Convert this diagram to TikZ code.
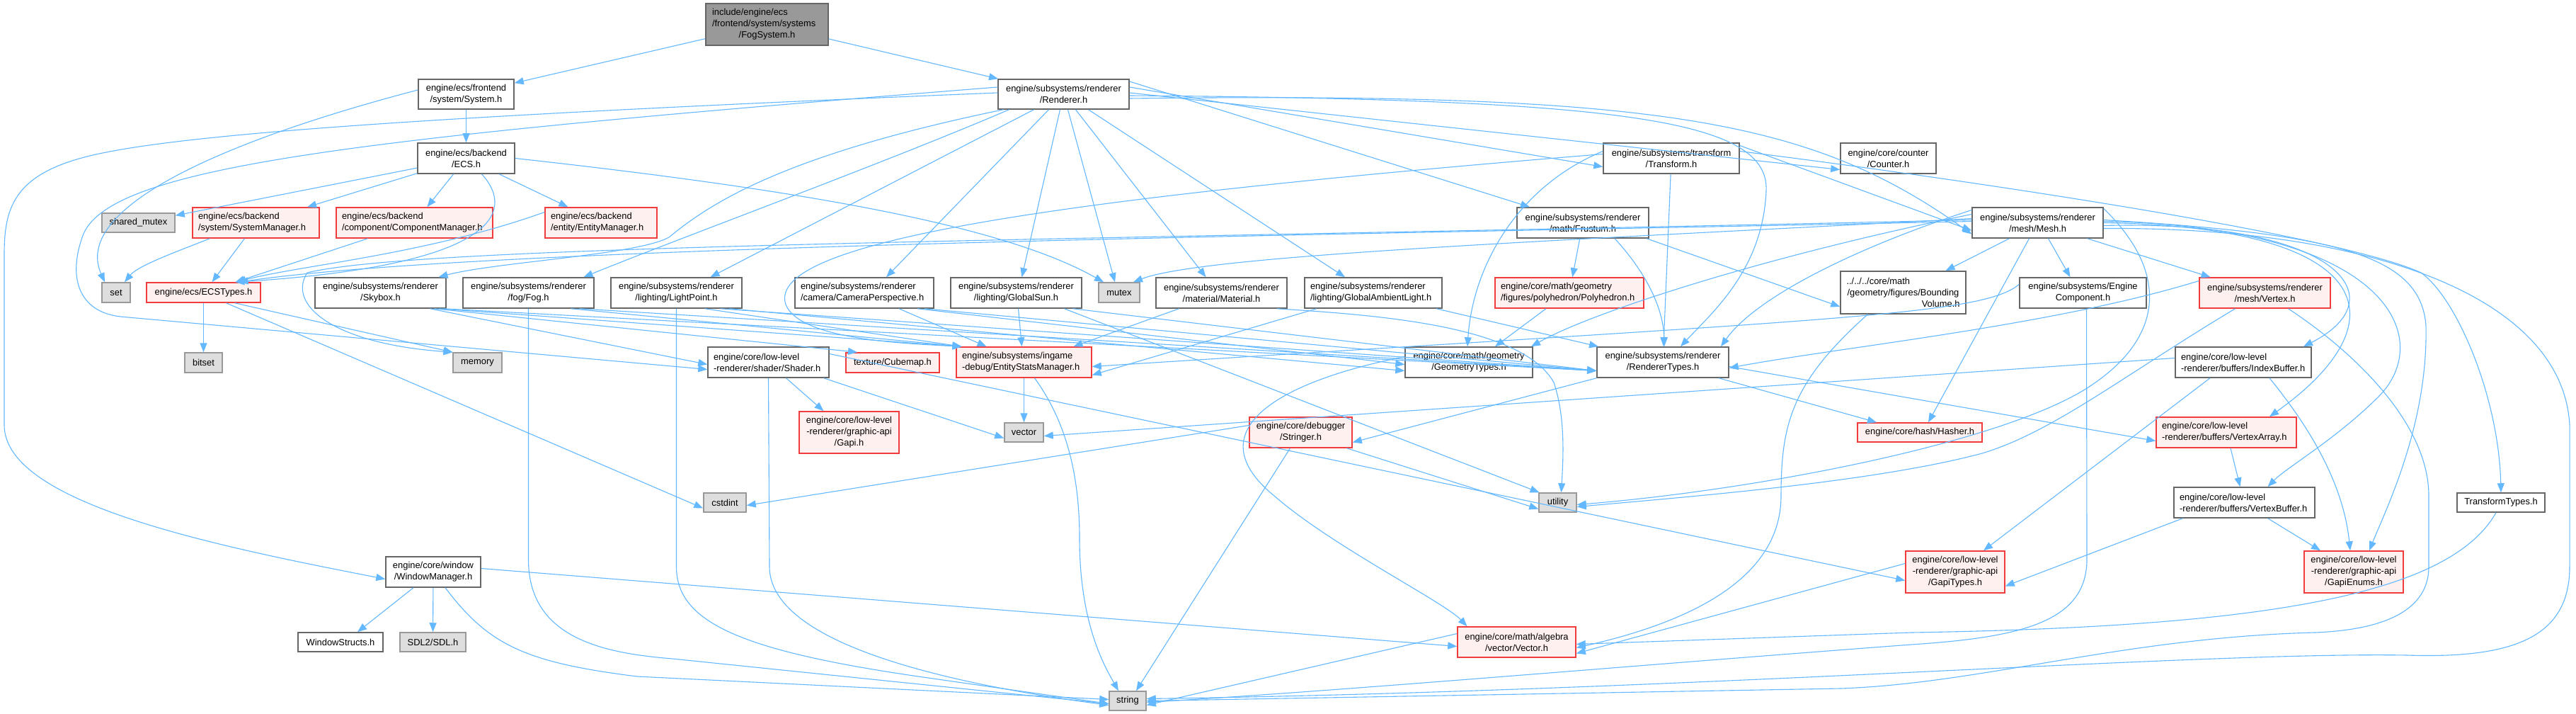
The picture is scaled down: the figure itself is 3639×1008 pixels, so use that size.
\documentclass[tikz,border=0pt]{standalone}
\usepackage{fontspec}
\setmainfont{Liberation Sans}
\usetikzlibrary{arrows.meta}
\definecolor{edgec}{HTML}{63B8FF}
\definecolor{bordc}{HTML}{666666}
\definecolor{grayf}{HTML}{DEDEDE}
\definecolor{grayb}{HTML}{999999}
\definecolor{redb}{HTML}{F03C3C}
\definecolor{redf}{HTML}{FFF0F0}
\definecolor{rootf}{HTML}{999999}
\begin{document}
\begin{tikzpicture}[x={(1pt,0)},y={(0,-1pt)},
  base/.style={draw, line width=1.5pt, inner sep=0pt, font=\fontsize{12.9}{16}\selectfont, align=center, anchor=center},
  wn/.style={base, draw=bordc, fill=white},
  gn/.style={base, draw=grayb, fill=grayf},
  rn/.style={base, draw=redb, fill=redf},
  rootn/.style={base, draw=bordc, fill=rootf},
  sz/.style 2 args={minimum width=#1, minimum height=#2},
  lt/.style={align=left, text width=#1},
  e/.style={draw=edgec, line width=1.1pt, -{Triangle[length=13pt,width=10pt]}},
]
\useasboundingbox (0,0) rectangle (3639,1008);
\fill[white] (0,0) rectangle (3639,1008);

% ---------- nodes ----------
\node[rootn, sz={173}{59}] (root) at (1083.5,34.5) {\makebox[155pt][l]{include/engine/ecs}\\\makebox[155pt][l]{/frontend/system/systems}\\/FogSystem.h};
\node[wn, sz={135}{42}] (sys) at (658.5,133) {engine/ecs/frontend\\/system/System.h};
\node[wn, sz={185}{42}] (ren) at (1502.5,133) {engine/subsystems/renderer\\/Renderer.h};
\node[wn, sz={137}{43}] (ecs) at (658.5,223.5) {engine/ecs/backend\\/ECS.h};
\node[wn, sz={192}{43}] (tr) at (2361,223.5) {engine/subsystems/transform\\/Transform.h};
\node[wn, sz={135}{43}] (cnt) at (2667.5,223.5) {engine/core/counter\\/Counter.h};
\node[gn, sz={103}{27}] (smx) at (195.5,314.5) {shared\_mutex};
\node[rn, sz={179}{43}, lt=163] (sm) at (361.5,314.5) {engine/ecs/backend\\/system/SystemManager.h};
\node[rn, sz={221}{43}, lt=205] (cm) at (585.5,314.5) {engine/ecs/backend\\/component/ComponentManager.h};
\node[rn, sz={158}{43}, lt=142] (em) at (849,314.5) {engine/ecs/backend\\/entity/EntityManager.h};
\node[wn, sz={186}{43}] (fru) at (2236,314.5) {engine/subsystems/renderer\\/math/Frustum.h};
\node[wn, sz={185}{43}] (mesh) at (2878.5,314.5) {engine/subsystems/renderer\\/mesh/Mesh.h};
\node[gn, sz={40}{28}] (set) at (164,413) {set};
\node[rn, sz={161}{28}] (ects) at (287.5,413) {engine/ecs/ECSTypes.h};
\node[wn, sz={185}{43}] (sky) at (537.5,413.5) {engine/subsystems/renderer\\/Skybox.h};
\node[wn, sz={185}{43}] (fog) at (746.5,413.5) {engine/subsystems/renderer\\/fog/Fog.h};
\node[wn, sz={185}{43}] (lp) at (955.5,413.5) {engine/subsystems/renderer\\/lighting/LightPoint.h};
\node[wn, sz={196}{43}, lt=180] (cam) at (1221,413.5) {engine/subsystems/renderer\\/camera/CameraPerspective.h};
\node[wn, sz={185}{43}] (sun) at (1435.5,413.5) {engine/subsystems/renderer\\/lighting/GlobalSun.h};
\node[gn, sz={58}{28}] (mtx) at (1581,413) {mutex};
\node[wn, sz={185}{43}] (mat) at (1725.5,413.5) {engine/subsystems/renderer\\/material/Material.h};
\node[wn, sz={194}{43}, lt=178] (gal) at (1940,413.5) {engine/subsystems/renderer\\/lighting/GlobalAmbientLight.h};
\node[rn, sz={210}{43}, lt=194] (poly) at (2217,413.5) {engine/core/math/geometry\\/figures/polyhedron/Polyhedron.h};
\node[wn, sz={177}{60}] (bv) at (2688.5,413) {\makebox[160pt][l]{../../../core/math}\\/geometry/figures/Bounding\\\makebox[160pt][r]{Volume.h}};
\node[wn, sz={179}{43}] (ec) at (2942.5,413.5) {engine/subsystems/Engine\\Component.h};
\node[rn, sz={185}{43}] (vtx) at (3199.5,413.5) {engine/subsystems/renderer\\/mesh/Vertex.h};
\node[gn, sz={53}{28}] (bits) at (287.5,512) {bitset};
\node[gn, sz={69}{28}] (mem) at (674.5,512) {memory};
\node[wn, sz={171}{43}, lt=155] (sh) at (1085.5,511.5) {engine/core/low-level\\-renderer/shader/Shader.h};
\node[rn, sz={132}{28}] (cube) at (1261,512) {texture/Cubemap.h};
\node[rn, sz={191}{43}, lt=175] (esm) at (1446.5,511.5) {engine/subsystems/ingame\\-debug/EntityStatsManager.h};
\node[wn, sz={180}{43}] (gt) at (2075,511.5) {engine/core/math/geometry\\/GeometryTypes.h};
\node[wn, sz={186}{43}] (rt) at (2349,511.5) {engine/subsystems/renderer\\/RendererTypes.h};
\node[wn, sz={192}{43}, lt=176] (ib) at (3169,511.5) {engine/core/low-level\\-renderer/buffers/IndexBuffer.h};
\node[rn, sz={141}{59}] (gapi) at (1199.5,610.5) {engine/core/low-level\\-renderer/graphic-api\\/Gapi.h};
\node[gn, sz={55}{27}] (vec) at (1446.5,610.5) {vector};
\node[rn, sz={145}{43}] (str) at (1837.5,610.5) {engine/core/debugger\\/Stringer.h};
\node[rn, sz={176}{27}] (hash) at (2712,610.5) {engine/core/hash/Hasher.h};
\node[rn, sz={198}{43}, lt=182] (va) at (3145,610.5) {engine/core/low-level\\-renderer/buffers/VertexArray.h};
\node[gn, sz={60}{27}] (cst) at (1024,709.5) {cstdint};
\node[gn, sz={53}{27}] (util) at (2200.5,709.5) {utility};
\node[wn, sz={199}{43}, lt=183] (vb) at (3170.5,709.5) {engine/core/low-level\\-renderer/buffers/VertexBuffer.h};
\node[wn, sz={124}{27}] (tt) at (3533,709.5) {TransformTypes.h};
\node[wn, sz={134}{43}] (wm) at (612,807.5) {engine/core/window\\/WindowManager.h};
\node[rn, sz={140}{59}] (gtyp) at (2762,807.5) {engine/core/low-level\\-renderer/graphic-api\\/GapiTypes.h};
\node[rn, sz={140}{59}] (genum) at (3325,807.5) {engine/core/low-level\\-renderer/graphic-api\\/GapiEnums.h};
\node[wn, sz={120}{27}] (ws) at (481,906.5) {WindowStructs.h};
\node[gn, sz={93}{27}] (sdl) at (611.5,906.5) {SDL2/SDL.h};
\node[rn, sz={167}{43}] (vecm) at (2142.5,906.5) {engine/core/math/algebra\\/vector/Vector.h};
\node[gn, sz={52}{27}] (strg) at (1593,989.5) {string};

% ---------- edges ----------
% root
\draw[e] (root) -- (sys);
\draw[e] (root) -- (ren);
% System.h
\draw[e] (sys) -- (ecs);
\draw[e] ([yshift=6]sys.west) .. controls (330,195) and (100,290) .. ([xshift=-16]set.north);
% ECS.h
\draw[e] (ecs) -- (smx);
\draw[e] (ecs) -- (sm);
\draw[e] (ecs) -- (cm);
\draw[e] (ecs) -- (em);
\draw[e] ([xshift=22]ecs.south) .. controls (730,300) and (700,375) .. ([xshift=45]ects.north);
\draw[e] (ecs.east) .. controls (1150,270) and (1420,320) .. ([xshift=-22]mtx.north);
% managers
\draw[e] ([xshift=-65]sm.south) .. controls (250,355) and (195,375) .. ([xshift=12]set.north);
\draw[e] ([xshift=-16]sm.south) -- ([xshift=12]ects.north);
\draw[e] ([xshift=-66]cm.south) -- ([xshift=45]ects.north);
\draw[e] ([yshift=15]em.west) .. controls (600,360) and (420,375) .. ([xshift=47]ects.north);
% ECSTypes
\draw[e] (ects) -- (bits);
\draw[e] ([xshift=44]ects.south) -- ([xshift=-35]mem.north);
\draw[e] ([xshift=32]ects.south) -- ([yshift=-8]cst.west);
% Renderer.h
\draw[e] ([xshift=-85]ren.south) .. controls (1100,220) and (1000,290) .. (945,335) .. controls (900,360) and (700,370) .. ([xshift=82]sky.north);
\draw[e] ([xshift=-77]ren.south) .. controls (1250,230) and (950,340) .. ([xshift=78]fog.north);
\draw[e] ([xshift=-42]ren.south) -- ([xshift=48]lp.north);
\draw[e] ([xshift=-21]ren.south) -- ([xshift=31]cam.north);
\draw[e] ([xshift=-5]ren.south) -- ([xshift=8]sun.north);
\draw[e] ([xshift=6]ren.south) -- ([xshift=-6]mtx.north);
\draw[e] ([xshift=17]ren.south) -- ([xshift=-22]mat.north);
\draw[e] ([xshift=35]ren.south) -- ([xshift=-40]gal.north);
\draw[e] ([yshift=18]ren.east) -- ([xshift=-75]fru.north);
\draw[e] ([yshift=10]ren.east) -- ([yshift=-12]tr.west);
\draw[e] ([yshift=2]ren.east) -- ([yshift=-16]cnt.west);
\draw[e] ([yshift=-6]ren.east) .. controls (2350,130) and (2560,170) .. ([yshift=-16]mesh.west);
\draw[e] ([yshift=-2]ren.east) .. controls (2300,140) and (2500,170) .. (2495,270) .. controls (2490,380) and (2420,440) .. ([xshift=25]rt.north);
\draw[e] ([yshift=2]ren.west) .. controls (700,160) and (300,185) .. (150,215) .. controls (20,240) and (6,290) .. (6,360) -- (6,600) .. controls (6,710) and (300,770) .. ([yshift=-10]wm.west);
\draw[e] ([yshift=10]ren.west) .. controls (500,195) and (160,235) .. (118,330) .. controls (95,390) and (110,440) .. (170,447) -- ([yshift=-10]sh.west);
% Transform.h
\draw[e] ([yshift=10]tr.east) .. controls (2750,250) and (3300,330) .. (3420,385) .. controls (3470,420) and (3530,560) .. (tt.north);
\draw[e] ([yshift=18]tr.east) -- ([yshift=-11]mesh.west);
\draw[e] ([yshift=10]tr.west) .. controls (2140,265) and (2080,380) .. ([xshift=-2]gt.north);
\draw[e] (tr) -- (rt);
\draw[e] ([yshift=6]tr.west) .. controls (1500,280) and (1080,340) .. (1110,430) .. controls (1130,480) and (1280,485) .. ([xshift=-88]esm.north);
% Frustum.h
\draw[e] (fru) -- (poly);
\draw[e] ([xshift=45]fru.south) .. controls (2330,390) and (2350,440) .. ([xshift=2]rt.north);
\draw[e] ([xshift=90]fru.south) -- ([yshift=-20]bv.west);
\draw[e] ([xshift=-33]poly.south) -- ([xshift=37]gt.north);
% GlobalAmbientLight.h
\draw[e] ([xshift=-80]gal.south) -- ([yshift=-18]esm.east);
\draw[e] ([xshift=89]gal.south) -- ([xshift=-91]rt.north);
% BoundingVolume
\draw[e] ([xshift=-50]bv.south) .. controls (2530,540) and (2516,600) .. (2516,700) .. controls (2516,820) and (2380,880) .. ([yshift=-8]vecm.east);
% Skybox.h
\draw[e] ([xshift=70]sky.south) -- ([yshift=-3]sh.west);
\draw[e] ([xshift=76]sky.south) -- ([xshift=-50]cube.north);
\draw[e] ([xshift=82]sky.south) -- ([xshift=-88]esm.north);
\draw[e] ([xshift=88]sky.south) -- ([yshift=-12]rt.west);
% Fog.h
\draw[e] ([xshift=60]fog.south) -- ([xshift=-88]esm.north);
\draw[e] ([xshift=72]fog.south) -- ([yshift=-12]rt.west);
\draw[e] (fog.south) -- (746.5,790) .. controls (746.5,900) and (850,922) .. (950,930) -- ([yshift=-4]strg.west);
% LightPoint.h
\draw[e] (lp.south) -- (955.5,800) .. controls (955.5,880) and (1050,920) .. (1311,957) -- ([yshift=-4]strg.west);
\draw[e] ([xshift=40]lp.south) -- ([xshift=-88]esm.north);
\draw[e] ([xshift=62]lp.south) -- ([yshift=-12]rt.west);
\draw[e] ([xshift=75]lp.south) -- ([yshift=-12]gt.west);
% CameraPerspective.h
\draw[e] ([xshift=49]cam.south) -- ([xshift=-53]esm.north);
\draw[e] ([xshift=75]cam.south) -- ([yshift=-3]gt.west);
\draw[e] ([xshift=85]cam.south) -- ([yshift=-12]rt.west);
% GlobalSun.h
\draw[e] ([xshift=3]sun.south) -- ([xshift=-3]esm.north);
\draw[e] ([xshift=68]sun.south) -- ([xshift=-26]util.north);
\draw[e] ([xshift=80]sun.south) -- ([yshift=-12]rt.west);
% Material.h
\draw[e] ([xshift=-60]mat.south) -- ([xshift=70]esm.north);
\draw[e] ([xshift=78]mat.south) .. controls (1950,445) and (2150,460) .. (2195,540) .. controls (2212,590) and (2208,650) .. ([xshift=5]util.north);
% Mesh.h
\draw[e] ([xshift=-40]mesh.south) -- ([xshift=60]bv.north);
\draw[e] ([xshift=15]mesh.south) -- ([xshift=-18]ec.north);
\draw[e] ([xshift=70]mesh.south) -- ([xshift=-77]vtx.north);
\draw[e] ([xshift=-12]mesh.south) -- ([xshift=12]hash.north);
\draw[e] ([yshift=20]mesh.east) .. controls (3060,380) and (3060,470) .. (2960,540) .. controls (2850,620) and (2500,690) .. ([yshift=-3]util.east);
\draw[e] ([yshift=-8]mesh.east) .. controls (3350,320) and (3620,420) .. (3630,600) -- (3630,800) .. controls (3630,900) and (3550,930) .. (3400,925) .. controls (3100,920) and (2400,975) .. ([yshift=3]strg.east);
\draw[e] ([yshift=-4]mesh.east) .. controls (3300,310) and (3390,420) .. ([xshift=85]ib.north);
\draw[e] (mesh.east) .. controls (3350,320) and (3400,450) .. ([xshift=61]va.north);
\draw[e] ([yshift=2]mesh.east) .. controls (3380,320) and (3440,480) .. (3360,560) .. controls (3300,620) and (3230,660) .. ([xshift=33]vb.north);
\draw[e] ([yshift=4]mesh.east) .. controls (3300,330) and (3420,360) .. (3427,460) .. controls (3430,600) and (3370,720) .. ([xshift=22]genum.north);
\draw[e] ([yshift=18]mesh.west) .. controls (2620,350) and (2480,420) .. ([xshift=82]rt.north);
\draw[e] ([yshift=12]mesh.west) .. controls (2500,360) and (2250,440) .. ([xshift=88]gt.north);
\draw[e] ([yshift=6]mesh.west) .. controls (2200,340) and (1700,360) .. ([xshift=20]mtx.north);
\draw[e] ([yshift=2]mesh.west) .. controls (2000,330) and (700,345) .. ([xshift=50]ects.north);
\draw[e] ([yshift=4]mesh.west) .. controls (1500,340) and (600,345) .. (434,385) .. controls (405,430) and (470,485) .. ([xshift=-35]mem.north);
% EngineComponent.h
\draw[e] ([yshift=12]ec.west) .. controls (2800,445) and (2600,450) .. ([yshift=-6]esm.east);
\draw[e] ([xshift=5]ec.south) -- (2948,790) .. controls (2948,880) and (2850,900) .. (2700,910) .. controls (2300,940) and (1900,975) .. ([yshift=-2]strg.east);
% Vertex.h
\draw[e] ([yshift=17]vtx.west) .. controls (2900,460) and (2600,490) .. ([yshift=-8]rt.east);
\draw[e] ([xshift=-42]vtx.south) .. controls (3000,530) and (2900,610) .. (2800,640) .. controls (2650,680) and (2400,700) .. ([yshift=-6]util.east);
\draw[e] ([xshift=33]vtx.south) .. controls (3330,500) and (3431,600) .. (3431,700) -- (3431,800) .. controls (3431,870) and (3350,890) .. (3270,893) .. controls (3000,900) and (2800,965) .. (2600,972) -- ([yshift=0]strg.east);
% RendererTypes.h
\draw[e] (rt.south west) -- ([yshift=-14]str.east);
\draw[e] ([xshift=79]rt.south) -- ([xshift=-61]hash.north);
\draw[e] ([yshift=-6]rt.east) -- ([yshift=-12]va.west);
% GeometryTypes.h
\draw[e] ([yshift=8]gt.west) .. controls (1800,540) and (1690,610) .. (1800,700) .. controls (1880,770) and (2040,850) .. ([xshift=-70]vecm.north);
% Stringer.h
\draw[e] ([yshift=10]str.west) -- ([yshift=-4]cst.east);
\draw[e] ([xshift=-15]str.south) -- ([xshift=12]strg.north);
\draw[e] ([xshift=65]str.south) -- ([yshift=-9]util.west);
% Shader.h
\draw[e] ([xshift=25]sh.south) -- ([xshift=-36]gapi.north);
\draw[e] ([xshift=78]sh.south) -- ([yshift=-8]vec.west);
\draw[e] ([yshift=12]sh.east) -- ([yshift=-12]gtyp.west);
\draw[e] (sh.south) -- (1087,800) .. controls (1087,900) and (1300,960) .. ([yshift=-6]strg.west);
% EntityStatsManager.h
\draw[e] (esm) -- (vec);
\draw[e] ([xshift=15]esm.south) .. controls (1510,600) and (1525,680) .. (1525,760) .. controls (1525,880) and (1560,940) .. ([xshift=-13]strg.north);
% IndexBuffer.h
\draw[e] ([yshift=6]ib.west) -- ([yshift=-5]vec.east);
\draw[e] ([xshift=-47]ib.south) -- ([xshift=40]gtyp.north);
\draw[e] ([xshift=37]ib.south) .. controls (3260,600) and (3310,680) .. ([xshift=-5]genum.north);
% VertexArray / VertexBuffer
\draw[e] ([xshift=6]va.south) -- ([xshift=-6]vb.north);
\draw[e] ([xshift=-87]vb.south) -- ([yshift=-20]gtyp.east);
\draw[e] ([xshift=33]vb.south) -- ([xshift=-47]genum.north);
% GapiTypes / TransformTypes / Vector
\draw[e] ([yshift=12]gtyp.west) -- ([yshift=-16]vecm.east);
\draw[e] ([xshift=-7]tt.south) .. controls (3460,840) and (3200,885) .. (2700,893) -- ([yshift=-3]vecm.east);
\draw[e] ([yshift=12]vecm.west) -- ([yshift=-6]strg.east);
% WindowManager.h
\draw[e] ([xshift=-28]wm.south) -- ([xshift=24]ws.north);
\draw[e] (wm) -- (sdl);
\draw[e] ([yshift=5]wm.east) -- ([yshift=-6]vecm.west);
\draw[e] ([xshift=17]wm.south) .. controls (690,910) and (740,935) .. (900,955) -- ([yshift=2]strg.west);
\end{tikzpicture}
\end{document}
